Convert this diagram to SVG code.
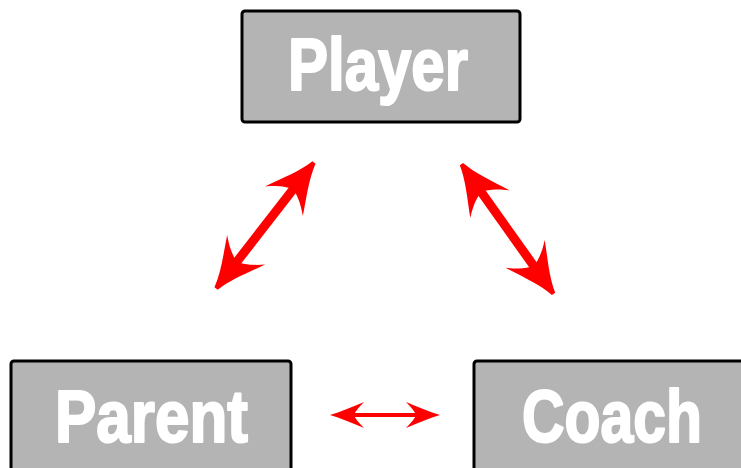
<svg xmlns="http://www.w3.org/2000/svg" width="741" height="468" viewBox="0 0 741 468">
  <style>
    .box { fill: #b4b4b4; stroke: #000; stroke-width: 3; }
    .lbl { font-family: "Liberation Sans", Arial, sans-serif; font-weight: bold; font-size: 74px; fill: #fff; stroke: #fff; stroke-width: 2.2; stroke-linejoin: round; }
    .big { stroke: #f00; stroke-width: 9; fill: none; marker-start: url(#hb); marker-end: url(#hb); }
    .small { stroke: #f00; stroke-width: 4; fill: none; marker-start: url(#hs); marker-end: url(#hs); }
  </style>
  <defs>
    <marker id="hb" markerUnits="userSpaceOnUse" viewBox="-50 -26 52 52" markerWidth="52" markerHeight="52" refX="-25" refY="0" orient="auto-start-reverse" overflow="visible">
      <path d="M1,-2 L1,2 C -15,6 -30,15 -48,24 C -38,13 -35,6 -33,0 C -35,-6 -38,-13 -48,-24 C -30,-15 -15,-6 1,-2 Z" fill="#f00"/>
    </marker>
    <marker id="hs" markerUnits="userSpaceOnUse" viewBox="-40 -15 42 30" markerWidth="42" markerHeight="30" refX="-15" refY="0" orient="auto-start-reverse" overflow="visible">
      <path d="M0,0 C -10,-3 -22,-8 -34,-13 C -28,-7 -25,-3 -24,0 C -25,3 -28,7 -34,13 C -22,8 -10,3 0,0 Z" fill="#f00"/>
    </marker>
  </defs>
  <g id="player">
    <rect class="box" x="242" y="11" width="278" height="111" rx="3"/>
    <text class="lbl" x="288" y="90" textLength="180" lengthAdjust="spacingAndGlyphs">Player</text>
  </g>
  <g id="parent">
    <rect class="box" x="11" y="361" width="280" height="120" rx="3"/>
    <text class="lbl" x="55" y="442" textLength="193" lengthAdjust="spacingAndGlyphs">Parent</text>
  </g>
  <g id="coach">
    <rect class="box" x="474" y="361" width="280" height="120" rx="3"/>
    <text class="lbl" x="522" y="442" textLength="180" lengthAdjust="spacingAndGlyphs">Coach</text>
  </g>
  <g id="connectors">
    <line class="big" x1="232" y1="268" x2="298" y2="183"/>
    <line class="big" x1="476.5" y1="185.4" x2="538.5" y2="272.6"/>
    <line class="small" x1="345" y1="415" x2="425" y2="415"/>
  </g>
</svg>
